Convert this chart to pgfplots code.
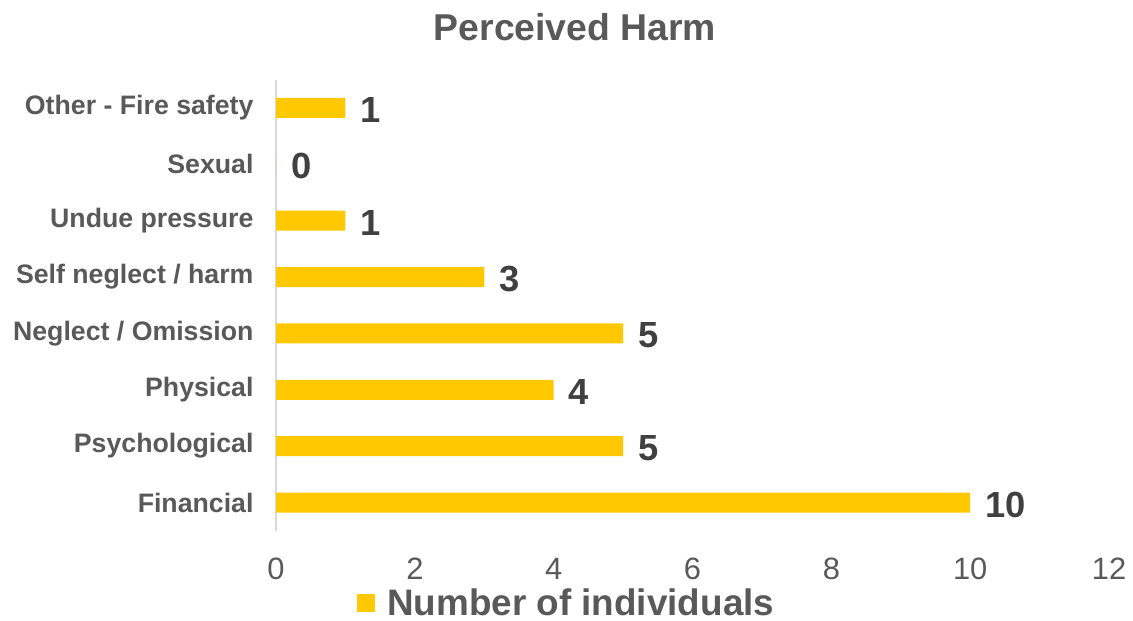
\documentclass[border=0pt]{standalone}
\usepackage{fontspec}
\setmainfont{Liberation Sans}
\usepackage{pgfplots}
\pgfplotsset{compat=1.18}
\definecolor{barY}{HTML}{FFC800}
\definecolor{txtG}{HTML}{595959}
\definecolor{valG}{HTML}{404040}
\definecolor{axG}{HTML}{D9D9D9}
\begin{document}
\begin{tikzpicture}[x=1bp,y=1bp]
\useasboundingbox (0,0) rectangle (1133,621);
\node[font=\fontsize{37.5}{40}\selectfont\bfseries, text=txtG] at (575,594) {Perceived Harm};
\begin{axis}[
  at={(276bp,90.3bp)}, anchor=south west,
  scale only axis, width=833bp, height=451bp,
  xbar, bar width=20bp,
  xmin=0, xmax=12, ymin=-0.5, ymax=7.5,
  xtick={0,2,...,12},
  ytick={0,...,7},
  yticklabels={Financial,Psychological,Physical,Neglect / Omission,Self neglect / harm,Undue pressure,Sexual,Other - Fire safety},
  /pgf/number format/assume math mode=true,
  axis x line*=bottom, axis y line*=left,
  x axis line style={draw=none},
  y axis line style={draw=axG, line width=1.5bp},
  major tick length=0pt,
  tick style={draw=none},
  xticklabel style={font=\fontsize{31}{33}\selectfont, text=txtG, yshift=-24bp},
  yticklabel style={font=\fontsize{26.8}{28}\selectfont\bfseries, text=txtG, xshift=-19bp},
  nodes near coords,
  nodes near coords style={font=\fontsize{36.5}{38}\selectfont\bfseries, text=valG, anchor=west, xshift=15bp, yshift=-2bp, inner sep=0pt},
  legend style={at={(0.349,-0.160)}, anchor=center, draw=none, fill=none,
    font=\fontsize{37}{40}\selectfont\bfseries, text=txtG, inner sep=0pt,
    /tikz/every even column/.append style={column sep=0bp}},
  legend cell align=left,
  legend image code/.code={\fill[barY] (0bp,-9bp) rectangle (18bp,9bp);
    \path (0bp,0bp) -- (28bp,0bp);},
]
\addplot[fill=barY, draw=none] coordinates {
  (10,0) (5,1) (4,2) (5,3) (3,4) (1,5) (0,6) (1,7)
};
\addlegendentry{Number of individuals}
\end{axis}
\end{tikzpicture}
\end{document}
